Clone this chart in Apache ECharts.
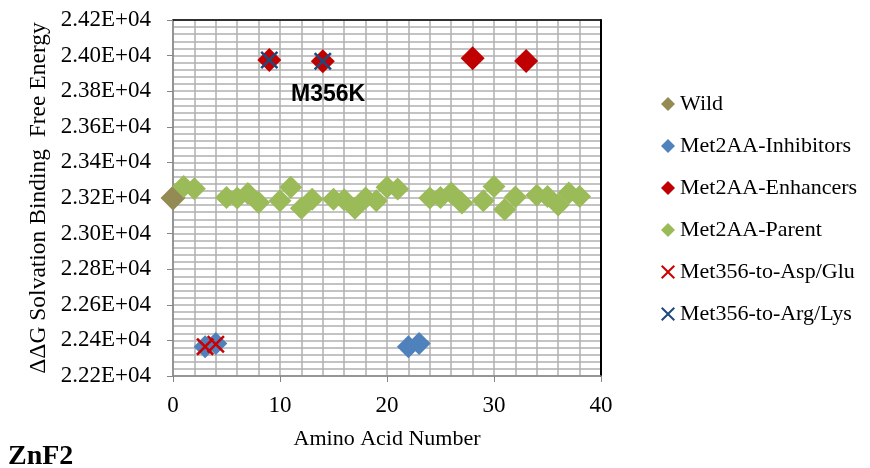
<!DOCTYPE html>
<html>
<head>
<meta charset="utf-8">
<script src="https://cdn.jsdelivr.net/npm/echarts@6/dist/echarts.min.js"></script>
<style>
  html, body { margin: 0; padding: 0; background: #fff; }
  #chart { width: 870px; height: 468px; }
</style>
</head>
<body>
<div id="chart"></div>
<script>
var wildX = [0]
var wildY = [23200]

var inhibitorsX = [3, 4, 22, 23]
var inhibitorsY = [22365, 22383, 22365, 22383]

var enhancersX = [9, 14, 28, 33]
var enhancersY = [23975, 23968, 23985, 23970]

var parentX = [1, 2, 5, 6, 7, 8, 10, 11, 12, 13, 15, 16, 17, 18, 19, 20, 21,
  24, 25, 26, 27, 29, 30, 31, 32, 34, 35, 36, 37, 38]
var parentY = [23265, 23252, 23203, 23200, 23225, 23175, 23185, 23260, 23142, 23193,
  23193, 23190, 23142, 23200, 23185, 23260, 23250, 23200, 23203, 23228, 23172,
  23185, 23265, 23135, 23205, 23215, 23208, 23160, 23228, 23208]

var aspGluX = [3, 4]
var aspGluY = [22365, 22378]

var argLysX = [9, 14]
var argLysY = [23975, 23968]

var xTicks = [0, 10, 20, 30, 40]
var yTicks = [22200, 22400, 22600, 22800, 23000, 23200, 23400, 23600, 23800, 24000, 24200]

var serif = '"Liberation Serif", "Times New Roman", serif'
var cross = 'path://M0,1L1,0L5,4L9,0L10,1L6,5L10,9L9,10L5,6L1,10L0,9L4,5Z'
var gridLine = { color: '#b0b0b0', width: 1.5 }

function pairs(xs, ys) {
  return xs.map(function (x, i) { return [x, ys[i]] })
}

function scatter(name, xs, ys, symbol, size, color) {
  return {
    name: name,
    type: 'scatter',
    symbol: symbol,
    symbolSize: size,
    itemStyle: { color: color, opacity: 1 },
    data: pairs(xs, ys)
  }
}

var chart = echarts.init(document.getElementById('chart'))
chart.setOption({
  animation: false,
  textStyle: { fontFamily: serif, color: '#000' },
  grid: { left: 173, right: 269, top: 20, bottom: 92 },
  legend: {
    orient: 'vertical',
    left: 656,
    top: 88,
    itemWidth: 14,
    itemHeight: 14,
    itemGap: 20,
    textStyle: { fontFamily: serif, fontSize: 22, lineHeight: 22, color: '#000' },
    data: [
      { name: 'Wild', icon: 'diamond' },
      { name: 'Met2AA-Inhibitors', icon: 'diamond' },
      { name: 'Met2AA-Enhancers', icon: 'diamond' },
      { name: 'Met2AA-Parent', icon: 'diamond' },
      { name: 'Met356-to-Asp/Glu', icon: cross },
      { name: 'Met356-to-Arg/Lys', icon: cross }
    ]
  },
  xAxis: [{
    type: 'value',
    min: xTicks[0],
    max: xTicks[xTicks.length - 1],
    interval: 10,
    name: 'Amino Acid Number',
    nameLocation: 'middle',
    nameGap: 52,
    nameTextStyle: { fontFamily: serif, fontSize: 22, color: '#000' },
    axisLine: { lineStyle: { color: '#868686', width: 1.5 } },
    axisTick: { show: true, length: 6, lineStyle: { color: '#868686' } },
    axisLabel: { fontSize: 23, color: '#000', margin: 18 },
    splitLine: { show: true, lineStyle: gridLine },
    minorTick: { show: false, splitNumber: 5 },
    minorSplitLine: { show: true, lineStyle: gridLine }
  }, {
    type: 'value',
    position: 'top',
    min: xTicks[0],
    max: xTicks[xTicks.length - 1],
    axisLine: { show: true, onZero: false, lineStyle: { color: '#000', width: 1.5 } },
    axisTick: { show: false },
    axisLabel: { show: false },
    splitLine: { show: false }
  }],
  yAxis: [{
    type: 'value',
    min: yTicks[0],
    max: yTicks[yTicks.length - 1],
    interval: 200,
    name: '\u0394\u0394G Solvation Binding  Free Energy',
    nameLocation: 'middle',
    nameGap: 122,
    nameTextStyle: { fontFamily: serif, fontSize: 23.5, color: '#000' },
    axisLine: { show: true, lineStyle: { color: '#868686', width: 1.5 } },
    axisTick: { show: true, length: 6, lineStyle: { color: '#868686' } },
    axisLabel: {
      fontSize: 23,
      color: '#000',
      margin: 22,
      formatter: function (v) { return (v / 10000).toFixed(2) + 'E+04' }
    },
    splitLine: { show: true, lineStyle: gridLine },
    minorTick: { show: false, splitNumber: 5 },
    minorSplitLine: { show: true, lineStyle: gridLine }
  }, {
    type: 'value',
    position: 'right',
    min: yTicks[0],
    max: yTicks[yTicks.length - 1],
    axisLine: { show: true, onZero: false, lineStyle: { color: '#000', width: 2 } },
    axisTick: { show: false },
    axisLabel: { show: false },
    splitLine: { show: false }
  }],
  graphic: [{
    type: 'text',
    left: 291,
    top: 83,
    z: 100,
    style: { text: 'M356K', font: 'bold 23px "Liberation Sans", Arial, sans-serif', fill: '#000' }
  }, {
    type: 'text',
    left: 8,
    top: 443,
    z: 100,
    style: { text: 'ZnF2', font: 'bold 28px "Liberation Serif", "Times New Roman", serif', fill: '#000' }
  }],
  series: [
    scatter('Wild', wildX, wildY, 'diamond', 25, '#948a54'),
    scatter('Met2AA-Inhibitors', inhibitorsX, inhibitorsY, 'diamond', 23, '#4f81bd'),
    scatter('Met2AA-Enhancers', enhancersX, enhancersY, 'diamond', 24, '#c00000'),
    scatter('Met2AA-Parent', parentX, parentY, 'diamond', 23, '#9bbb59'),
    scatter('Met356-to-Asp/Glu', aspGluX, aspGluY, cross, 18, '#cc0000'),
    scatter('Met356-to-Arg/Lys', argLysX, argLysY, cross, 18, '#1f497d')
  ]
})
</script>
</body>
</html>
